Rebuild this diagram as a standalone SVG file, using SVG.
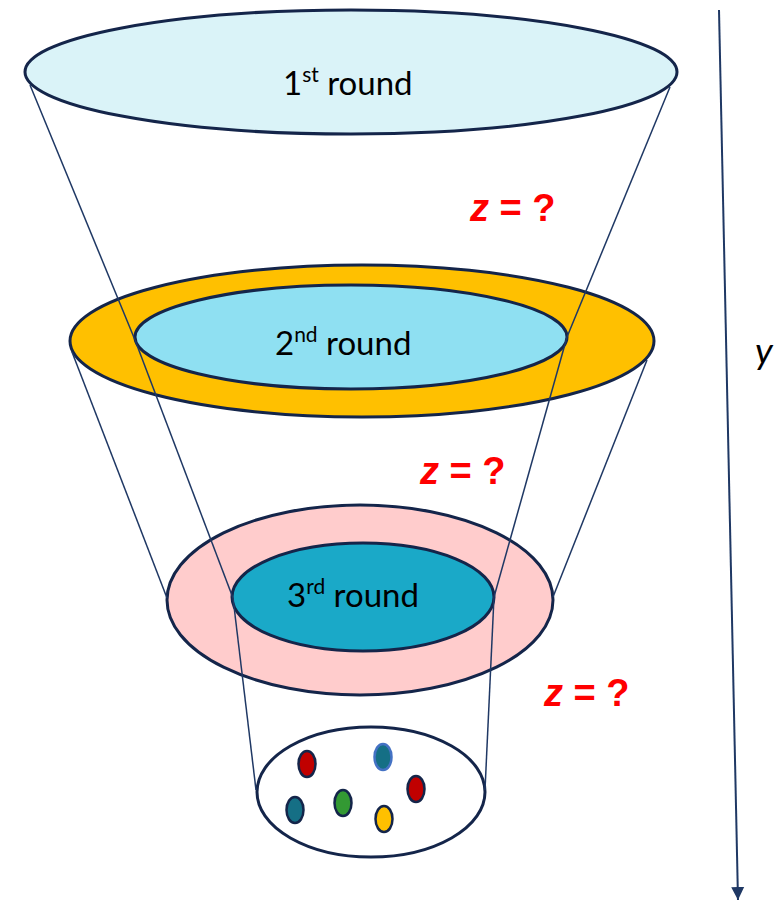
<svg xmlns="http://www.w3.org/2000/svg" width="781" height="902" viewBox="0 0 781 902">
  <defs>
    <style>
      .ring { stroke: #14254A; stroke-width: 3; }
      .lbl { font-family: Lato, "Liberation Sans", sans-serif; font-size: 33px; fill: #000; }
      .sup { font-size: 21px; }
      .z { font-family: "Liberation Sans", Arial, sans-serif; font-size: 38px; font-weight: bold; fill: #FF0000; }
      .conn line { stroke: #1F3864; stroke-width: 1.5; }
      .dot { stroke: #14254A; stroke-width: 2.5; }
    </style>
    <marker id="ah" viewBox="0 0 10 10" refX="10" refY="5" markerWidth="13" markerHeight="16" markerUnits="userSpaceOnUse" orient="auto">
      <path d="M0,0 L10,5 L0,10 Z" fill="#1F3864"/>
    </marker>
  </defs>
  <rect width="781" height="902" fill="#FFFFFF"/>

  <g id="round1">
    <ellipse class="ring" cx="351" cy="72" rx="326" ry="62" fill="#DAF3F8"/>
    <text class="lbl" x="283" y="95">1<tspan class="sup" dy="-13">st</tspan><tspan dy="13"> round</tspan></text>
  </g>

  <g id="round2">
    <ellipse class="ring" cx="362" cy="341" rx="292" ry="76" fill="#FFC000"/>
    <ellipse class="ring" cx="351" cy="337" rx="216" ry="52" fill="#8FE0F2"/>
    <text class="lbl" x="275" y="355">2<tspan class="sup" dy="-13">nd</tspan><tspan dy="13"> round</tspan></text>
  </g>

  <g id="round3">
    <ellipse class="ring" cx="360" cy="600" rx="193" ry="95" fill="#FFCCCC"/>
    <ellipse class="ring" cx="363" cy="597" rx="131" ry="54" fill="#1AA9C8"/>
    <text class="lbl" x="287" y="607">3<tspan class="sup" dy="-13">rd</tspan><tspan dy="13"> round</tspan></text>
  </g>

  <g id="result">
    <ellipse class="ring" cx="371" cy="792" rx="114" ry="65" fill="#FFFFFF"/>
    <ellipse class="dot" cx="307" cy="764" rx="8.5" ry="13" fill="#C00000"/>
    <ellipse cx="383" cy="757" rx="8.5" ry="13" fill="#156F85" stroke="#4472C4" stroke-width="2.5"/>
    <ellipse class="dot" cx="416" cy="789" rx="8.5" ry="13" fill="#C00000"/>
    <ellipse class="dot" cx="295" cy="810" rx="8.5" ry="13" fill="#156F85"/>
    <ellipse class="dot" cx="343" cy="803" rx="8.5" ry="13" fill="#339933"/>
    <ellipse class="dot" cx="384" cy="819" rx="8.5" ry="13" fill="#FFC000"/>
  </g>

  <g id="connectors" class="conn">
    <line x1="30" y1="85" x2="135" y2="340"/>
    <line x1="135" y1="340" x2="233" y2="598"/>
    <line x1="233" y1="598" x2="256" y2="790"/>
    <line x1="72" y1="352" x2="167" y2="598"/>
    <line x1="670" y1="87" x2="567" y2="337"/>
    <line x1="567" y1="337" x2="494" y2="597"/>
    <line x1="494" y1="597" x2="485" y2="790"/>
    <line x1="647" y1="360" x2="553" y2="597"/>
    <line x1="719" y1="10" x2="738" y2="900" marker-end="url(#ah)" style="stroke-width:2"/>
  </g>

  <g id="labels">
    <text class="z" x="470" y="221"><tspan font-style="italic">z</tspan> = ?</text>
    <text class="z" x="420" y="484"><tspan font-style="italic">z</tspan> = ?</text>
    <text class="z" x="544" y="706"><tspan font-style="italic">z</tspan> = ?</text>
    <text x="755" y="364" font-family="Lato, 'Liberation Sans', sans-serif" font-size="37" font-style="italic" fill="#000">y</text>
  </g>
</svg>
